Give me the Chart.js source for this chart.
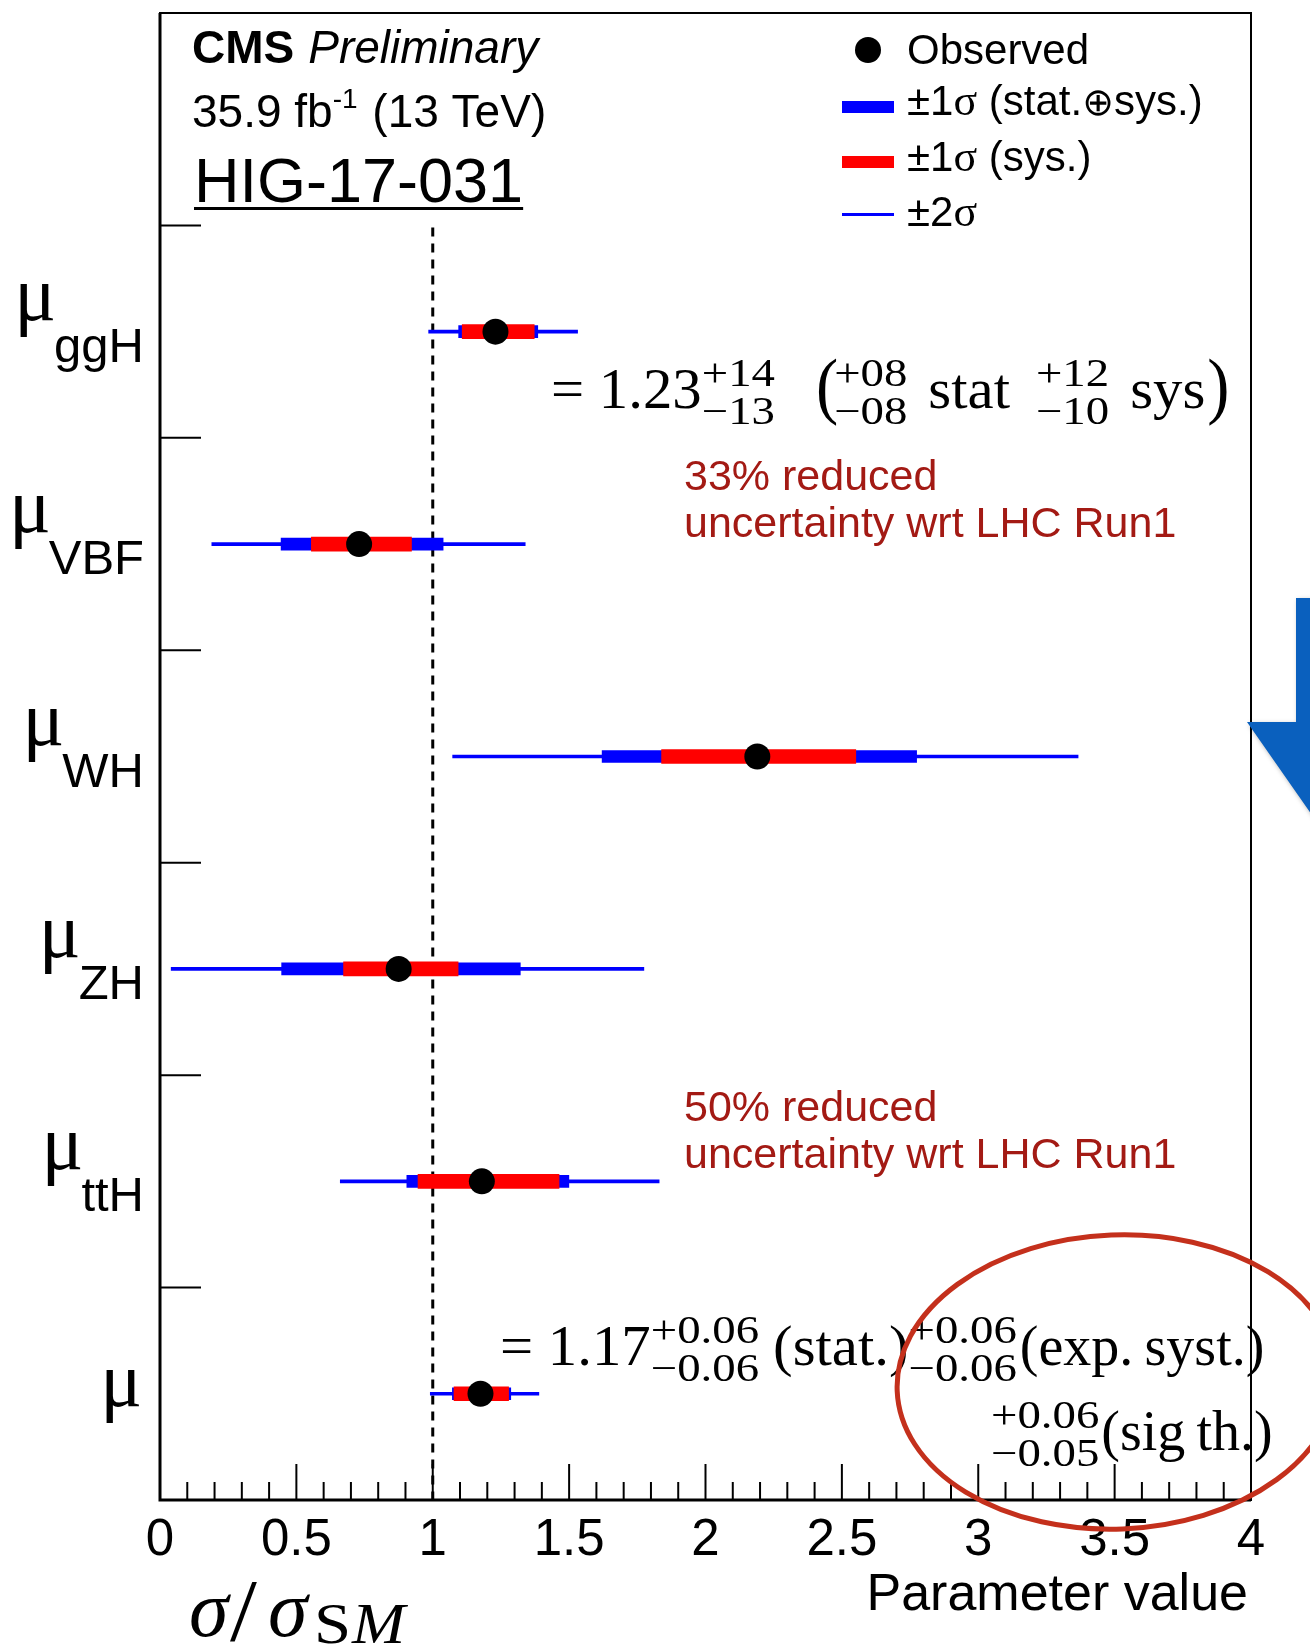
<!DOCTYPE html>
<html><head><meta charset="utf-8">
<script src="https://cdn.jsdelivr.net/npm/chart.js@4.4.1/dist/chart.umd.min.js"></script>
<style>html,body{margin:0;padding:0;background:#fff;} #wrap{width:1310px;height:1645px;position:relative;}</style>
</head><body><div id="wrap"><canvas id="c"></canvas></div>
<script>
// ---- data ----
const parameters = ['ggH', 'VBF', 'WH', 'ZH', 'ttH', 'incl'];
const subscripts = ['ggH', 'VBF', 'WH', 'ZH', 'ttH', ''];
const bestFit  = [1.23, 0.73, 2.19, 0.875, 1.18, 1.175];
const totalLo  = [1.095, 0.444, 1.621, 0.446, 0.905, 1.072];
const totalHi  = [1.385, 1.038, 2.774, 1.321, 1.499, 1.286];
const sysLo    = [1.108, 0.555, 1.839, 0.673, 0.946, 1.078];
const sysHi    = [1.372, 0.922, 2.551, 1.093, 1.463, 1.278];
const twoSigLo = [0.985, 0.190, 1.073, 0.041, 0.661, 0.991];
const twoSigHi = [1.531, 1.339, 3.366, 1.774, 1.830, 1.389];
const xTickValues = [0, 0.5, 1, 1.5, 2, 2.5, 3, 3.5, 4];
const xTickLabels = ['0', '0.5', '1', '1.5', '2', '2.5', '3', '3.5', '4'];
const smReference = 1;
const yLabels = [''].concat(parameters);

const legendEntries = ['Observed', '±1σ (stat.⊕sys.)', '±1σ (sys.)', '±2σ'];

const SANS = '"Liberation Sans", Arial, Helvetica, sans-serif';
const SERIF = '"Liberation Serif", "Times New Roman", serif';
const DARKRED = '#a31a14';

const pairs = (lo, hi) => parameters.map((p, i) => ({ y: p, x: [lo[i], hi[i]] }));

function runs(ctx, x, y, list) {
  let cx = x;
  for (const r of list) {
    ctx.font = r.font;
    ctx.fillText(r.t, cx, y + (r.dy || 0));
    cx += ctx.measureText(r.t).width + (r.gap || 0);
  }
  return cx;
}

function stretch(ctx, text, x, y, font, sx) {
  ctx.font = font;
  const w = ctx.measureText(text).width * sx;
  ctx.save();
  ctx.translate(x, y);
  ctx.scale(sx, 1);
  ctx.fillText(text, 0, 0);
  ctx.restore();
  return w;
}

function drawMath(ctx, x, y, parts) {
  const MAIN = '56px ' + SERIF, SCRIPT = '39px ' + SERIF, BIG = '74px ' + SERIF;
  let cx = x;
  ctx.textAlign = 'left';
  ctx.textBaseline = 'alphabetic';
  for (const p of parts) {
    if (p.sup !== undefined) {
      const w1 = stretch(ctx, p.sup, cx, y - 22, SCRIPT, 1.2);
      const w2 = stretch(ctx, p.sub, cx, y + 16, SCRIPT, 1.2);
      cx += Math.max(w1, w2) + (p.gap || 0);
    } else if (p.big) {
      cx += stretch(ctx, p.t, cx, y + 2, BIG, 0.9) + (p.gap || 0);
    } else {
      cx += stretch(ctx, p.t, cx, y, MAIN, p.sx || 1.05) + (p.gap || 0);
    }
  }
  return cx;
}

const decor = {
  id: 'decor',
  beforeDatasetsDraw(chart) {
    const ctx = chart.ctx, xs = chart.scales.x, ys = chart.scales.y, a = chart.chartArea;
    const yTop = (ys.getPixelForValue(0) + ys.getPixelForValue(1)) / 2;
    const px = xs.getPixelForValue(smReference);
    ctx.save();
    ctx.strokeStyle = '#000';
    ctx.lineWidth = 3;
    ctx.setLineDash([9, 7]);
    ctx.beginPath();
    ctx.moveTo(px, yTop + 2);
    ctx.lineTo(px, a.bottom);
    ctx.stroke();
    ctx.restore();
  },
  afterDraw(chart) {
    const ctx = chart.ctx, xs = chart.scales.x, ys = chart.scales.y, a = chart.chartArea;
    ctx.save();
    // frame
    ctx.strokeStyle = '#000';
    ctx.lineWidth = 2;
    ctx.strokeRect(a.left, a.top, a.right - a.left, a.bottom - a.top);
    ctx.lineWidth = 3;
    ctx.beginPath();
    ctx.moveTo(a.left, a.top); ctx.lineTo(a.left, a.bottom); ctx.lineTo(a.right, a.bottom);
    ctx.stroke();
    // x ticks inside
    ctx.lineWidth = 2;
    for (let k = 1; k < 40; k++) {
      const v = k / 10;
      const major = k % 5 === 0;
      const px = xs.getPixelForValue(v);
      ctx.beginPath();
      ctx.moveTo(px, a.bottom);
      ctx.lineTo(px, a.bottom - (major ? 36 : 18));
      ctx.stroke();
    }
    // y boundary ticks
    for (let i = 1; i < yLabels.length; i++) {
      const py = (ys.getPixelForValue(i - 1) + ys.getPixelForValue(i)) / 2;
      ctx.beginPath();
      ctx.moveTo(a.left, py);
      ctx.lineTo(a.left + 41, py);
      ctx.stroke();
    }
    // y labels  mu_sub
    ctx.fillStyle = '#000';
    ctx.textBaseline = 'alphabetic';
    parameters.forEach((p, i) => {
      const yc = ys.getPixelForValue(i + 1);
      const sub = subscripts[i];
      if (sub) {
        ctx.font = '49px ' + SANS;
        ctx.textAlign = 'right';
        ctx.fillText(sub, 144, yc + 30);
        const sw = ctx.measureText(sub).width;
        ctx.font = '78px ' + SERIF;
        ctx.fillText('μ', 144 - sw + 2, yc - 12);
      } else {
        ctx.font = '78px ' + SERIF;
        ctx.textAlign = 'right';
        ctx.fillText('μ', 142, yc + 12);
      }
    });
    ctx.textAlign = 'left';
    // header texts
    runs(ctx, 192, 63, [
      { t: 'CMS', font: 'bold 46px ' + SANS, gap: 14 },
      { t: 'Preliminary', font: 'italic 46px ' + SANS }
    ]);
    runs(ctx, 192, 127, [
      { t: '35.9 fb', font: '46px ' + SANS },
      { t: '-1', font: '28px ' + SANS, dy: -19, gap: 2 },
      { t: ' (13 TeV)', font: '46px ' + SANS }
    ]);
    ctx.font = '63px ' + SANS;
    ctx.fillText('HIG-17-031', 194, 202);
    const hw = ctx.measureText('HIG-17-031').width;
    ctx.fillRect(194, 207, hw, 3);
    // legend
    const lx0 = 842, lx1 = 894, tx = 907;
    ctx.beginPath(); ctx.arc(868, 50, 13, 0, Math.PI * 2); ctx.fill();
    ctx.fillStyle = '#0000ff'; ctx.fillRect(lx0, 101, lx1 - lx0, 12);
    ctx.fillStyle = '#ff0000'; ctx.fillRect(lx0, 156, lx1 - lx0, 12);
    ctx.fillStyle = '#0000ff'; ctx.fillRect(lx0, 213, lx1 - lx0, 3);
    ctx.fillStyle = '#000';
    const LF = '42px ' + SANS, LS = '44px ' + SERIF;
    runs(ctx, tx, 64, [{ t: legendEntries[0], font: LF }]);
    runs(ctx, tx, 115, [{ t: '±1', font: LF }, { t: 'σ', font: LS }, { t: ' (stat.', font: LF }, { t: '⊕', font: '38px "DejaVu Sans"' }, { t: 'sys.)', font: LF }]);
    runs(ctx, tx, 171, [{ t: '±1', font: LF }, { t: 'σ', font: LS }, { t: ' (sys.)', font: LF }]);
    runs(ctx, tx, 226, [{ t: '±2', font: LF }, { t: 'σ', font: LS }]);
    // red notes
    ctx.fillStyle = DARKRED;
    ctx.font = '43px ' + SANS;
    ctx.fillText('33% reduced', 684, 490);
    ctx.fillText('uncertainty wrt LHC Run1', 684, 537);
    ctx.fillText('50% reduced', 684, 1121);
    ctx.fillText('uncertainty wrt LHC Run1', 684, 1168);
    // formulas
    ctx.fillStyle = '#000';
    drawMath(ctx, 551, 408, [
      { t: '= 1.23' }, { sup: '+14', sub: '−13', gap: 41 },
      { t: '(', big: true, gap: -4 }, { sup: '+08', sub: '−08', gap: 21 },
      { t: 'stat', gap: 26 }, { sup: '+12', sub: '−10', gap: 21 }, { t: 'sys', gap: 2 }, { t: ')', big: true }
    ]);
    drawMath(ctx, 500, 1365, [
      { t: '= 1.17' }, { sup: '+0.06', sub: '−0.06', gap: 14 },
      { t: '(stat.)', gap: 0 }, { sup: '+0.06', sub: '−0.06', gap: 3 }, { t: '(exp.\u2009syst.)', sx: 1.0 }
    ]);
    drawMath(ctx, 991, 1450, [
      { sup: '+0.06', sub: '−0.05', gap: 2 }, { t: '(sig\u2009th.)', sx: 1.0 }
    ]);
    // axis titles
    ctx.font = '52px ' + SANS;
    ctx.textAlign = 'right';
    ctx.fillText('Parameter value', 1248, 1610);
    ctx.textAlign = 'left';
    ctx.font = 'italic 80px ' + SERIF;
    ctx.fillText('σ', 189, 1636);
    stretch(ctx, '/', 230, 1640, '88px ' + SERIF, 1.1);
    ctx.font = 'italic 80px ' + SERIF;
    ctx.fillText('σ', 268, 1636);
    stretch(ctx, 'S', 314, 1643, '58px ' + SERIF, 1.15);
    stretch(ctx, 'M', 352, 1643, 'italic 58px ' + SERIF, 1.1);
    // red ellipse
    ctx.strokeStyle = '#c4301c';
    ctx.lineWidth = 5;
    ctx.beginPath();
    ctx.ellipse(1117, 1382, 220, 147, -0.04, 0, Math.PI * 2);
    ctx.stroke();
    // blue arrow
    ctx.shadowColor = 'rgba(0,0,0,0.35)';
    ctx.shadowBlur = 5;
    ctx.shadowOffsetX = 2;
    ctx.shadowOffsetY = 2;
    ctx.fillStyle = '#0a60be';
    ctx.beginPath();
    ctx.moveTo(1296, 598); ctx.lineTo(1350, 598); ctx.lineTo(1350, 722); ctx.lineTo(1399, 722);
    ctx.lineTo(1323, 831); ctx.lineTo(1247, 722); ctx.lineTo(1296, 722); ctx.closePath();
    ctx.fill();
    ctx.restore();
  }
};

new Chart(document.getElementById('c'), {
  type: 'bar',
  data: {
    labels: yLabels,
    datasets: [
      { type: 'scatter', label: legendEntries[0], data: parameters.map((p, i) => ({ x: bestFit[i], y: p })),
        pointRadius: 13, pointHoverRadius: 13, backgroundColor: '#000', borderWidth: 0, order: 0 },
      { type: 'bar', indexAxis: 'y', label: legendEntries[2], data: pairs(sysLo, sysHi),
        backgroundColor: '#ff0000', barThickness: 14, grouped: false, borderWidth: 0, order: 1 },
      { type: 'bar', indexAxis: 'y', label: legendEntries[1], data: pairs(totalLo, totalHi),
        backgroundColor: '#0000ff', barThickness: 12, grouped: false, borderWidth: 0, order: 2 },
      { type: 'bar', indexAxis: 'y', label: legendEntries[3], data: pairs(twoSigLo, twoSigHi),
        backgroundColor: '#0000ff', barThickness: 3, grouped: false, borderWidth: 0, order: 3 }
    ]
  },
  options: {
    responsive: true,
    maintainAspectRatio: false,
    animation: false,
    layout: { padding: { left: 160, right: 59, top: 12, bottom: 0 } },
    plugins: { legend: { display: false }, tooltip: { enabled: false } },
    scales: {
      x: {
        type: 'linear', min: 0, max: 4, offset: false,
        grid: { display: false, drawTicks: false, offset: false },
        border: { display: false },
        afterBuildTicks: s => { s.ticks = xTickValues.map(v => ({ value: v })); },
        afterFit: s => { s.height = 145; },
        ticks: {
          color: '#000', padding: 10, maxRotation: 0, autoSkip: false,
          font: { size: 51, family: SANS },
          callback: (v, i) => xTickLabels[i]
        }
      },
      y: {
        type: 'category', labels: yLabels, offset: true, display: false,
        grid: { display: false }
      }
    }
  },
  plugins: [decor]
});
</script>
</body></html>
